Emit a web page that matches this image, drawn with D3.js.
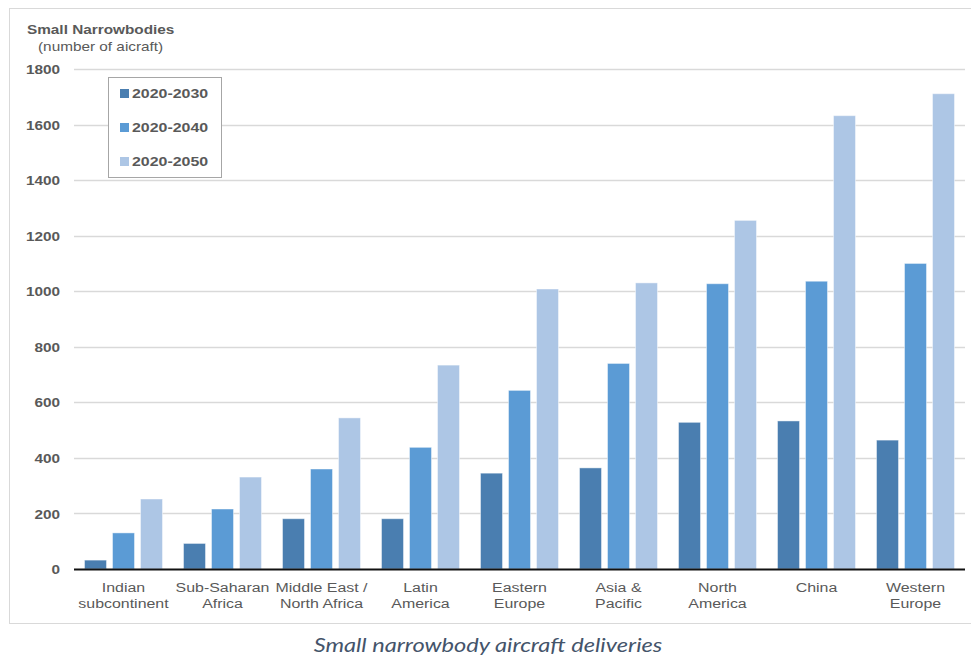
<!DOCTYPE html>
<html>
<head>
<meta charset="utf-8">
<script src="https://cdn.jsdelivr.net/npm/d3@7"></script>
<style>
  html, body { margin: 0; padding: 0; background: #fff; }
  svg { display: block; }
</style>
</head>
<body>
<svg id="chart" width="971" height="659"></svg>
<script>
// Regions (two-line labels)
const regions = [
  ["Indian", "subcontinent"],
  ["Sub-Saharan", "Africa"],
  ["Middle East /", "North Africa"],
  ["Latin", "America"],
  ["Eastern", "Europe"],
  ["Asia &", "Pacific"],
  ["North", "America"],
  ["China"],
  ["Western", "Europe"]
];
const seriesNames = ["2020-2030", "2020-2040", "2020-2050"];
const deliveries2030 = [32, 92, 181, 181, 345, 364, 528, 533, 464];
const deliveries2040 = [130, 216, 360, 438, 643, 740, 1027, 1036, 1100];
const deliveries2050 = [252, 331, 544, 734, 1008, 1030, 1255, 1632, 1711];
const yTicks = [0, 200, 400, 600, 800, 1000, 1200, 1400, 1600, 1800];
const colors = ["#4a7eb0", "#5b9bd5", "#adc6e5"];

const seriesValues = [deliveries2030, deliveries2040, deliveries2050];

const svg = d3.select("#chart");
const plotLeft = 74, plotRight = 965, plotTop = 69, plotBottom = 569;
const SX = 1.18; // horizontal text stretch
const FONT = "Liberation Sans, Arial, sans-serif";

// places a stretched text element at (x, y)
function place(sel, xf, yf) {
  sel.attr("x", 0).attr("y", 0)
    .attr("transform", (d, i) => `translate(${xf(d, i)},${yf(d, i)}) scale(${SX},1)`);
}

// outer frame
svg.append("rect")
  .attr("x", 9.5).attr("y", 8.5)
  .attr("width", 980).attr("height", 615)
  .attr("fill", "none").attr("stroke", "#d9d9d9").attr("stroke-width", 1);

const x = d3.scaleBand()
  .domain(d3.range(regions.length))
  .range([plotLeft, plotRight]);

const xSub = d3.scaleBand()
  .domain(d3.range(seriesNames.length))
  .range([0, x.bandwidth()])
  .paddingInner(0.214)
  .paddingOuter(0.375);

const y = d3.scaleLinear().domain([0, 1800]).range([plotBottom, plotTop]);

// gridlines
svg.append("g")
  .selectAll("line")
  .data(yTicks.filter(d => d > 0))
  .join("line")
  .attr("x1", plotLeft).attr("x2", plotRight)
  .attr("y1", d => Math.round(y(d)) + 0.5).attr("y2", d => Math.round(y(d)) + 0.5)
  .attr("stroke", "#d9d9d9").attr("stroke-width", 1.3);

// y axis labels
const yAxis = d3.axisLeft(y).tickValues(yTicks).tickFormat(d3.format("d")).tickSize(0).tickPadding(0);
const gy = svg.append("g").attr("transform", `translate(60,0)`).call(yAxis);
gy.select(".domain").remove();
gy.selectAll("text")
  .attr("font-family", FONT)
  .attr("font-size", 13).attr("font-weight", "bold").attr("fill", "#595959")
  .attr("dy", "0.35em")
  .attr("transform", `scale(${SX},1)`)
  .attr("x", 0);

// bars
const groups = svg.append("g")
  .selectAll("g")
  .data(regions.map((r, i) => i))
  .join("g")
  .attr("transform", i => `translate(${x(i)},0)`);

groups.selectAll("rect")
  .data(i => seriesValues.map((vals, s) => ({ s, v: vals[i] })))
  .join("rect")
  .attr("x", d => xSub(d.s))
  .attr("width", xSub.bandwidth())
  .attr("y", d => y(d.v))
  .attr("height", d => plotBottom - y(d.v))
  .attr("fill", d => colors[d.s])
  .attr("stroke", "#ffffff").attr("stroke-opacity", 0.45).attr("stroke-width", 1);

// baseline
svg.append("line")
  .attr("x1", plotLeft).attr("x2", plotRight)
  .attr("y1", plotBottom + 0.5).attr("y2", plotBottom + 0.5)
  .attr("stroke", "#111").attr("stroke-width", 2);

// x labels
const xl = svg.append("g")
  .selectAll("text")
  .data(regions)
  .join("text")
  .attr("text-anchor", "middle")
  .attr("font-family", FONT)
  .attr("font-size", 13.5).attr("fill", "#595959");
place(xl, (d, i) => x(i) + x.bandwidth() / 2, () => 592);
xl.selectAll("tspan")
  .data(d => d)
  .join("tspan")
  .attr("x", 0)
  .attr("dy", (d, j) => j === 0 ? 0 : 16)
  .text(d => d);

// title
const title = svg.append("text").datum(0)
  .attr("font-family", FONT)
  .attr("font-size", 13).attr("font-weight", "bold").attr("fill", "#595959")
  .text("Small Narrowbodies");
place(title, () => 27, () => 34);
const subtitle = svg.append("text").datum(0)
  .attr("font-family", FONT)
  .attr("font-size", 13).attr("fill", "#595959")
  .text("(number of aicraft)");
place(subtitle, () => 38, () => 51);

// legend
const legend = svg.append("g");
legend.append("rect")
  .attr("x", 108.5).attr("y", 77.5).attr("width", 113).attr("height", 100)
  .attr("fill", "#fff").attr("stroke", "#a6a6a6").attr("stroke-width", 1);
const li = legend.selectAll("g.item")
  .data(seriesNames)
  .join("g").attr("class", "item")
  .attr("transform", (d, i) => `translate(120,${93 + i * 34})`);
li.append("rect")
  .attr("x", 0).attr("y", -4).attr("width", 9).attr("height", 9)
  .attr("fill", (d, i) => colors[i]);
li.append("text")
  .attr("dy", "0.36em")
  .attr("font-family", FONT)
  .attr("font-size", 13.5).attr("font-weight", "bold").attr("fill", "#595959")
  .text(d => d)
  .call(s => place(s, () => 12, () => 0));

// caption
const caption = svg.append("text").datum(0)
  .attr("text-anchor", "middle")
  .attr("font-family", "Lato, 'Open Sans', sans-serif")
  .attr("font-style", "italic")
  .attr("font-size", 20).attr("fill", "#44546a")
  .text("Small narrowbody aircraft deliveries");
place(caption, () => 488, () => 652);
</script>
</body>
</html>
